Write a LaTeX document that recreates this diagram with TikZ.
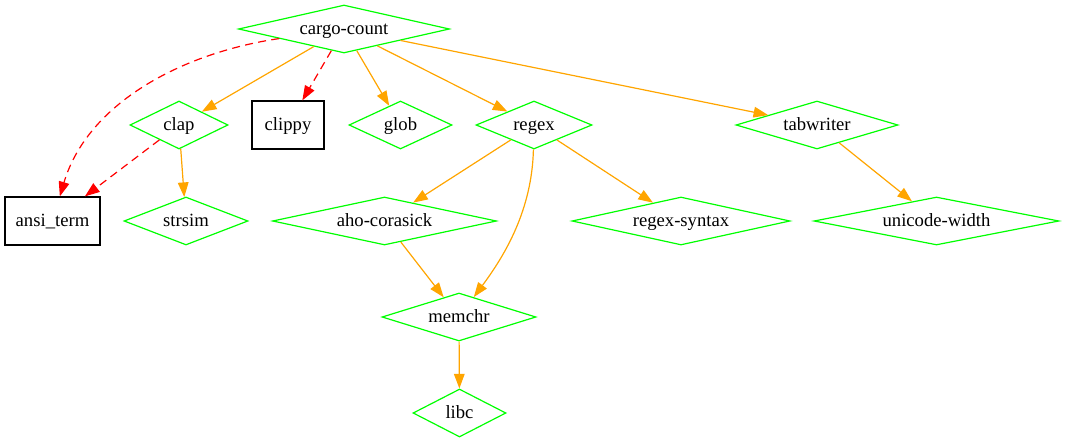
\documentclass[tikz,border=0pt]{standalone}
\usepackage{fontspec}
\setmainfont{Liberation Serif}
\usetikzlibrary{arrows.meta, shapes.geometric}

\definecolor{gvgreen}{RGB}{0,255,0}
\definecolor{gvorange}{RGB}{255,165,0}
\definecolor{gvred}{RGB}{255,0,0}

% label with no width, so the node size comes from minimum width/height only
\newcommand{\crlabel}[1]{\makebox[0pt]{#1}}

\begin{document}
\begin{tikzpicture}[
            x = 0.75pt, y = -0.75pt, % one unit is one pixel
            > = {Triangle[length=11pt, width=8pt]}, % arrow head style
            line width = 0.9pt % line style
        ]

        \tikzstyle{crate}=[
            diamond,
            draw = gvgreen,
            inner sep = 0pt,
            minimum height = 36pt,
            text height = 11pt, text depth = 2.8pt,
            font = \fontsize{14}{16}\selectfont
        ]
        \tikzstyle{extcrate}=[
            rectangle,
            draw = black,
            inner sep = 0pt,
            minimum height = 36pt,
            text height = 11pt, text depth = 2.8pt,
            font = \fontsize{14}{16}\selectfont
        ]
        \tikzstyle{dep}=[->, color = gvorange]
        \tikzstyle{devdep}=[->, color = gvred, dash pattern = on 6pt off 4pt]

        \useasboundingbox (0,0) rectangle (1065,443);

        \node[crate, minimum width=158.25pt] (cargo) at (344,29) {\crlabel{cargo-count}};

        \node[crate, minimum width=73.5pt] (clap) at (179,125) {\crlabel{clap}};
        \node[extcrate, minimum width=54pt] (clippy) at (288,125) {\crlabel{clippy}};
        \node[crate, minimum width=77.25pt] (glob) at (400.5,125) {\crlabel{glob}};
        \node[crate, minimum width=87pt] (regex) at (534,125) {\crlabel{regex}};
        \node[crate, minimum width=121.5pt] (tabwriter) at (817,125) {\crlabel{tabwriter}};

        \node[extcrate, minimum width=71.25pt] (ansi) at (52.5,221) {\crlabel{ansi\_term}};
        \node[crate, minimum width=93pt] (strsim) at (186,221) {\crlabel{strsim}};
        \node[crate, minimum width=168pt] (aho) at (384.5,221) {\crlabel{aho-corasick}};
        \node[crate, minimum width=163.5pt] (syntax) at (681,221) {\crlabel{regex-syntax}};
        \node[crate, minimum width=183.75pt] (uwidth) at (936.5,221) {\crlabel{unicode-width}};

        \node[crate, minimum width=115.5pt] (memchr) at (459,317) {\crlabel{memchr}};

        \node[crate, minimum width=69.75pt] (libc) at (459.5,413) {\crlabel{libc}};

        \path[dep] (cargo) edge (clap);
        \path[dep] (cargo) edge (glob);
        \path[dep] (cargo) edge (regex);
        \path[dep] (cargo) edge (tabwriter);
        \path[devdep] (cargo) edge (clippy);
        \draw[devdep] (cargo) .. controls (181.5,53) and (87.6,103.3) .. (ansi);

        \path[devdep] (clap) edge (ansi);
        \path[dep] (clap) edge (strsim);

        \path[dep] (regex) edge (aho);
        \path[dep] (regex) edge (syntax);
        \draw[dep] (regex) .. controls (532,210) and (505,255) .. (memchr);
        \path[dep] (tabwriter) edge (uwidth);

        \path[dep] (aho) edge (memchr);
        \path[dep] (memchr) edge (libc);
    \end{tikzpicture}
\end{document}
